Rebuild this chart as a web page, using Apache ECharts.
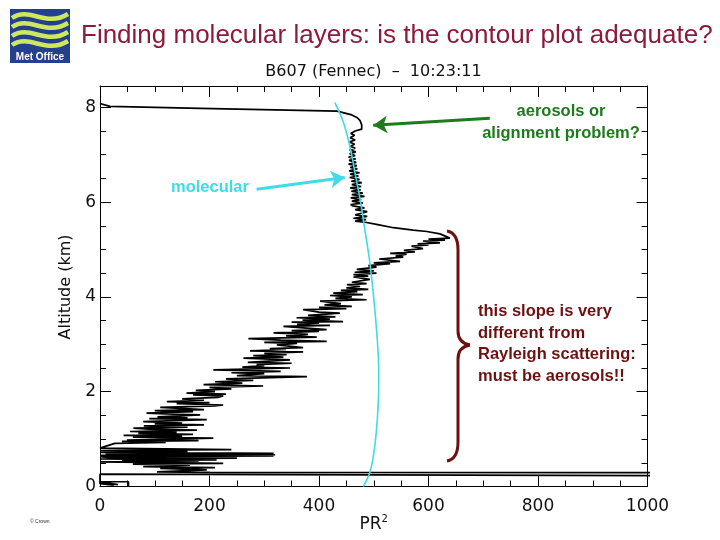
<!DOCTYPE html>
<html>
<head>
<meta charset="utf-8">
<script src="https://cdn.jsdelivr.net/npm/echarts@6/dist/echarts.min.js"></script>
<style>html,body{margin:0;padding:0;background:#fff}#c{width:720px;height:540px}</style>
</head>
<body>
<div id="c"></div>
<script>
// ---- data: [PR^2, altitude km] ----
const surfaceLayer = [[52,0.01],[52,0.10],[0,0.10],[33,0.04],[0,0.08],[25,0.03],[0,0.06],[0,0.26],[4000,0.14],[4000,0.262],[201,0.30]];
const boundaryLayer = [[104,0.31],[195,0.35],[110,0.38],[210,0.40],[79,0.42],[164,0.45],[60,0.47],[225,0.49],[0,0.52],[180,0.54],[40,0.55],[213,0.56],[0,0.58],[250,0.60],[20,0.61],[0,0.63],[317,0.645],[0,0.655],[320,0.67],[10,0.68],[317,0.70],[0,0.72],[160,0.74],[0,0.76],[240,0.78],[0,0.81]];
const aerosolSlope = [[27,0.91],[120,0.93],[40,0.95],[180,0.97],[49,0.98],[207,1.02],[60,1.04],[150,1.06],[43,1.08],[170,1.10],[70,1.12],[140,1.14],[55,1.16],[177,1.19],[90,1.21],[61,1.23],[160,1.25],[80,1.28],[190,1.30],[100,1.32],[150,1.34],[79,1.37],[195,1.41],[90,1.43],[160,1.45],[105,1.47],[183,1.51],[120,1.53],[85,1.55],[170,1.58],[100,1.60],[190,1.62],[146,1.65],[110,1.67],[210,1.70],[225,1.72],[140,1.75],[200,1.77],[122,1.79],[190,1.82],[150,1.85],[215,1.88],[225,1.91],[170,1.93],[230,1.95],[158,1.97],[210,2.00],[175,2.03],[240,2.06],[200,2.09],[298,2.12],[189,2.15],[260,2.18],[210,2.21],[280,2.24],[230,2.27],[378,2.32],[250,2.34],[300,2.38],[240,2.40],[330,2.43],[207,2.46],[347,2.50],[260,2.52],[300,2.55],[286,2.57],[350,2.60],[270,2.62],[347,2.67],[262,2.71],[335,2.73],[280,2.76],[341,2.78],[300,2.81],[371,2.84],[274,2.86],[340,2.89],[310,2.91],[371,2.93],[323,2.99],[360,3.02],[300,3.04],[414,3.06],[330,3.09],[271,3.12],[396,3.15],[340,3.18],[380,3.21],[317,3.24],[400,3.27],[350,3.29],[414,3.31],[335,3.38],[420,3.40],[360,3.42],[400,3.45],[350,3.47],[444,3.48],[370,3.51],[420,3.53],[359,3.56],[430,3.58],[380,3.61],[438,3.66],[400,3.68],[371,3.73],[450,3.75],[400,3.78],[460,3.80],[410,3.83],[440,3.86],[402,3.91],[487,3.94],[430,3.97],[460,4.00],[420,4.03],[480,4.05],[426,4.08],[470,4.11],[440,4.14],[490,4.16],[450,4.19],[475,4.22],[451,4.26],[487,4.28],[460,4.31],[493,4.37],[463,4.42]];
const aerosolTop = [[490,4.44],[463,4.47],[505,4.50],[465,4.52],[500,4.55],[469,4.58],[505,4.63],[490,4.66],[530,4.70],[500,4.72],[548,4.75],[510,4.80],[554,4.84],[540,4.86],[560,4.90],[530,4.92],[575,4.95],[555,4.98],[590,5.02],[569,5.07],[600,5.10],[580,5.12],[621,5.14],[590,5.18],[630,5.20],[600,5.22],[639,5.24],[621,5.33],[597,5.38],[572,5.41],[536,5.46],[505,5.53],[487,5.57]];
const molecularLayer = [[466,5.60],[486,5.63],[463,5.66],[488,5.70],[466,5.73],[480,5.77],[488,5.80],[466,5.84],[483,5.88],[462,5.92],[458,5.95],[480,5.98],[460,6.02],[477,6.05],[458,6.09],[483,6.12],[460,6.16],[480,6.19],[459,6.23],[476,6.26],[457,6.30],[477,6.33],[460,6.37],[478,6.41],[459,6.44],[474,6.48],[456,6.52],[472,6.55],[457,6.59],[474,6.62],[455,6.66],[470,6.70],[457,6.73],[469,6.77],[454,6.80],[468,6.84],[455,6.88],[467,6.91],[454,6.95],[466,6.98],[456,7.02],[467,7.06],[456,7.10],[466,7.14],[457,7.18],[465,7.22],[456,7.27],[466,7.31],[457,7.36],[465,7.41],[458,7.45],[466,7.50],[478,7.54],[481,7.58],[478,7.63],[481,7.67],[475,7.72],[470,7.78],[460,7.84],[433,7.92],[183,7.98],[18,8.02],[0,8.08]];
const rayleighAlt  = [0, 0.3, 0.7, 1.2, 1.7, 2.1, 2.5, 3.0, 3.6, 4.2, 4.8, 5.4, 6.0, 6.6, 7.2, 7.7, 8.1];
const rayleighPR2  = [481, 493, 500, 505, 508, 509, 509, 507, 503, 498, 492, 484, 476, 466, 456, 444, 429];
const xTickStep = 200, yTickStep = 2;
// annotation arrows in data coords [from, to]
const aerosolArrow = [[712, 7.77], [499, 7.62]];
const molecularArrow = [[286, 6.27], [447, 6.52]];

const profile = surfaceLayer.concat(boundaryLayer, aerosolSlope, aerosolTop, molecularLayer);
const rayleigh = rayleighAlt.map((a, i) => [rayleighPR2[i], a]);

const chart = echarts.init(document.getElementById('c'), null, {renderer: 'canvas'});
const axisFont = 'DejaVu Sans';
const baseAxis = {
  type: 'value',
  axisLine: {show: true, onZero: false, lineStyle: {color: '#000', width: 1}},
  axisTick: {show: true, inside: true, length: 11, lineStyle: {color: '#000'}},
  minorTick: {show: true, splitNumber: 4, length: 6, lineStyle: {color: '#000'}},
  splitLine: {show: false},
  axisLabel: {color: '#111', fontFamily: axisFont, fontSize: 17}
};
const annFont = 'bold 16.5px "Liberation Sans", Arial, sans-serif';
const brace = {stroke: '#6e1010', lineWidth: 3, fill: null};
const waveColor = '#cde85e';
function wave(y) {
  return {type: 'bezierCurve', shape: {x1: 12, y1: y, cpx1: 30, cpy1: y - 12, cpx2: 45, cpy2: y + 10, x2: 68, y2: y - 4}, style: {stroke: waveColor, lineWidth: 4.5, fill: null}};
}
chart.setOption({
  animation: false,
  backgroundColor: '#fff',
  grid: {left: 100, right: 72.5, top: 86, bottom: 53.5, containLabel: false},
  xAxis: [
    Object.assign({}, baseAxis, {min: 0, max: 1000, interval: xTickStep, position: 'bottom',
      axisLabel: Object.assign({}, baseAxis.axisLabel, {margin: 12, formatter: v => String(v)}),
      name: 'PR{s|2}', nameLocation: 'middle', nameGap: 28, nameMoveOverlap: false,
      nameTextStyle: {fontFamily: axisFont, fontSize: 17, color: '#111', rich: {s: {fontSize: 10, verticalAlign: 'top', padding: [0,0,10,0], fontFamily: axisFont, color: '#111'}}}}),
    Object.assign({}, baseAxis, {min: 0, max: 1000, interval: xTickStep, position: 'top', axisLabel: {show: false}})
  ],
  yAxis: [
    Object.assign({}, baseAxis, {min: 0, max: 8.45, interval: yTickStep, position: 'left',
      axisLabel: Object.assign({}, baseAxis.axisLabel, {margin: 4, formatter: v => (Math.abs(v % yTickStep) < 1e-9 ? String(v) : '')})}),
    Object.assign({}, baseAxis, {min: 0, max: 8.45, interval: yTickStep, position: 'right', axisLabel: {show: false}})
  ],
  series: [
    {type: 'line', data: profile, showSymbol: false, symbol: 'none', clip: true,
     lineStyle: {color: '#000', width: 1.7}, z: 3},
    {type: 'line', data: rayleigh, smooth: 0.4, showSymbol: false, symbol: 'none',
     lineStyle: {color: '#3fdbe6', width: 1.6}, z: 4,
     markLine: {silent: true, symbol: ['none', 'arrow'], symbolSize: [13, 14], label: {show: false},
       animation: false,
       data: [
         [{coord: aerosolArrow[0], lineStyle: {color: '#1d7a1d', width: 3, type: 'solid'}}, {coord: aerosolArrow[1]}],
         [{coord: molecularArrow[0], lineStyle: {color: '#3fdbe6', width: 3, type: 'solid'}}, {coord: molecularArrow[1]}]
       ]}}
  ],
  graphic: [
    {type: 'rect', shape: {x: 10, y: 9, width: 60, height: 54}, style: {fill: '#243f8e'}},
    wave(18), wave(27), wave(36), wave(45),
    {type: 'text', style: {x: 40, y: 57, text: 'Met Office', fill: '#fff', font: 'bold 10px "Liberation Sans", Arial', textAlign: 'center', textVerticalAlign: 'middle'}},
    {type: 'text', style: {x: 81, y: 36, text: 'Finding molecular layers: is the contour plot adequate?', fill: '#8b1a3c', font: '26px "Liberation Sans", Arial, sans-serif', textVerticalAlign: 'middle'}},
    {type: 'text', style: {x: 373.5, y: 72, text: 'B607 (Fennec)  –  10:23:11', fill: '#111', font: '16px "DejaVu Sans"', textAlign: 'center', textVerticalAlign: 'middle'}},
    {type: 'text', x: 66, y: 287, rotation: Math.PI / 2, style: {x: 0, y: 0, text: 'Altitude (km)', fill: '#111', font: '16px "DejaVu Sans"', textAlign: 'center', textVerticalAlign: 'middle'}},
    {type: 'text', style: {x: 561, y: 122, text: 'aerosols or\nalignment problem?', fill: '#1d7a1d', font: annFont, textAlign: 'center', textVerticalAlign: 'middle', lineHeight: 22}},
    {type: 'text', style: {x: 171, y: 187, text: 'molecular', fill: '#3fdbe6', font: annFont, textVerticalAlign: 'middle'}},
    {type: 'text', style: {x: 478, y: 344, text: 'this slope is very\ndifferent from\nRayleigh scattering:\nmust be aerosols!!', fill: '#6e1010', font: annFont, textVerticalAlign: 'middle', lineHeight: 21.7}},
    {type: 'bezierCurve', shape: {x1: 447, y1: 231, cpx1: 458, cpy1: 233, x2: 458, y2: 250}, style: brace},
    {type: 'line', shape: {x1: 458, y1: 250, x2: 458, y2: 331}, style: brace},
    {type: 'bezierCurve', shape: {x1: 458, y1: 331, cpx1: 458, cpy1: 343, x2: 470, y2: 345}, style: brace},
    {type: 'bezierCurve', shape: {x1: 470, y1: 345, cpx1: 458, cpy1: 347, x2: 458, y2: 359}, style: brace},
    {type: 'line', shape: {x1: 458, y1: 359, x2: 458, y2: 442}, style: brace},
    {type: 'bezierCurve', shape: {x1: 458, y1: 442, cpx1: 458, cpy1: 459, x2: 447, y2: 461}, style: brace},
    {type: 'text', style: {x: 30, y: 522, text: '© Crown', fill: '#333', font: '5px "Liberation Sans", Arial', textVerticalAlign: 'middle'}}
  ]
});
</script>
</body>
</html>
